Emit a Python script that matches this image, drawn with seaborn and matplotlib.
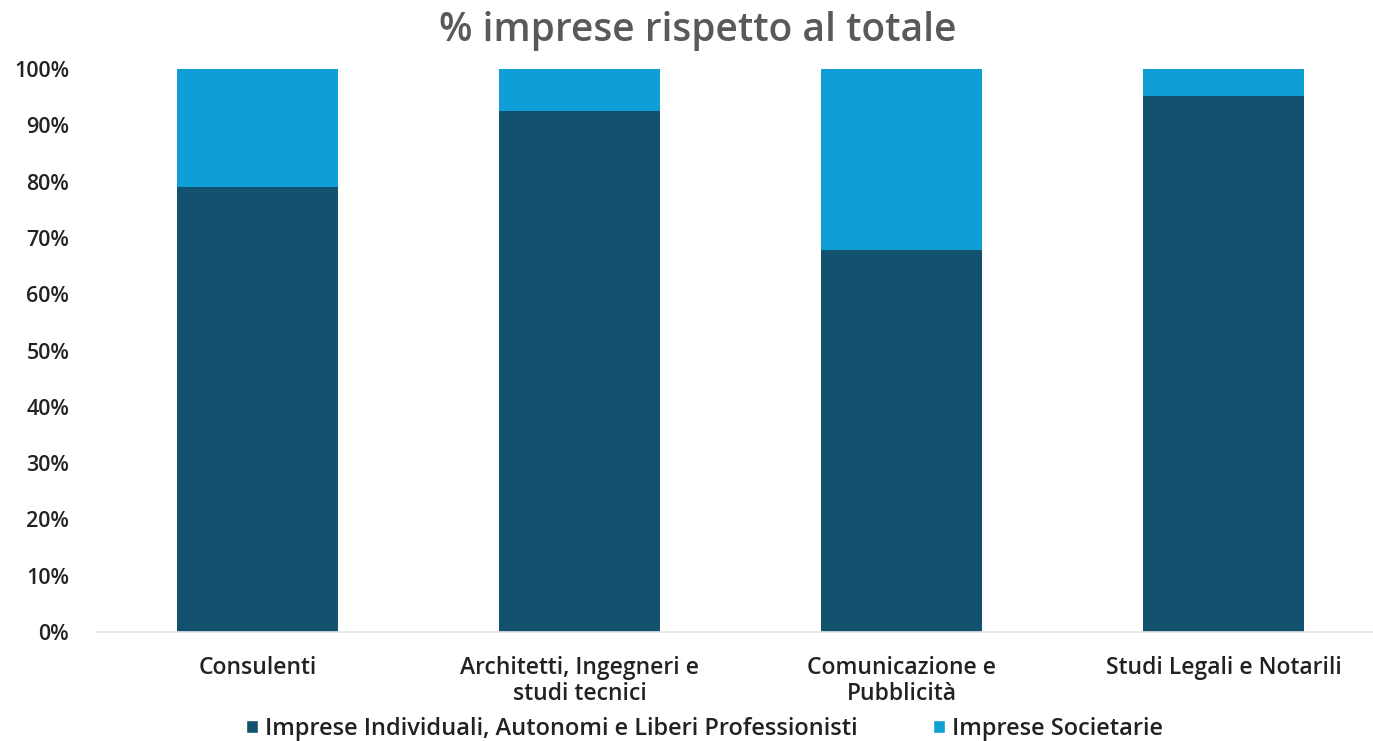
import numpy as np
import pandas as pd
import seaborn as sns
import matplotlib
matplotlib.use('Agg')
import matplotlib.pyplot as plt
from matplotlib.patches import Patch
from matplotlib.ticker import PercentFormatter

categories = ["Consulenti", "Architetti, Ingegneri e\nstudi tecnici",
              "Comunicazione e\nPubblicità", "Studi Legali e Notarili"]
individuali = [79.0, 92.5, 67.8, 95.2]
societarie = [21.0, 7.5, 32.2, 4.8]
series_names = ["Imprese Individuali, Autonomi e Liberi Professionisti", "Imprese Societarie"]

DARK = "#12526E"
LIGHT = "#109ED6"

sns.set_theme(style="white", rc={"axes.spines.right": False, "axes.spines.top": False})
plt.rcParams['font.family'] = ['Open Sans', 'DejaVu Sans']

df = pd.DataFrame({
    "categoria": categories,
    "individuali": individuali,
    "totale": np.array(individuali) + np.array(societarie),
})

fig = plt.figure(figsize=(13.73, 7.41), dpi=100)
ax = fig.add_axes([97 / 1373, 1 - 632 / 741, 1 - 97 / 1373, (632 - 69) / 741])

sns.barplot(data=df, x="categoria", y="totale", color=LIGHT, saturation=1,
            width=0.5, errorbar=None, linewidth=0, ax=ax)
sns.barplot(data=df, x="categoria", y="individuali", color=DARK, saturation=1,
            width=0.5, errorbar=None, linewidth=0, ax=ax)

ax.set_ylim(0, 100)
ax.set_xlim(-0.5, 3.463)
ax.set_yticks(np.arange(0, 101, 10))
ax.yaxis.set_major_formatter(PercentFormatter(decimals=0))
ax.set_xlabel("")
ax.set_ylabel("")
ax.spines['left'].set_visible(False)
ax.spines['bottom'].set_color("#e6e6e6")
ax.spines['bottom'].set_linewidth(1.2)
ax.tick_params(axis='y', labelsize=15.5, colors="#222222", pad=20, length=0)
ax.tick_params(axis='x', labelsize=16.5, colors="#222222", pad=17, length=0)
for lbl in ax.get_xticklabels() + ax.get_yticklabels():
    lbl.set_fontweight('semibold')
for lbl in ax.get_xticklabels():
    lbl.set_linespacing(1.15)

fig.suptitle("% imprese rispetto al totale", x=0.508, y=0.985, fontsize=28,
             color="#595959", fontweight='semibold')

handles = [Patch(facecolor=DARK, label=series_names[0]),
           Patch(facecolor=LIGHT, label=series_names[1])]
leg = fig.legend(handles=handles, loc='center', bbox_to_anchor=(0.513, 0.016),
                 ncol=2, frameon=False, fontsize=17, handlelength=0.5,
                 handleheight=0.5, handletextpad=0.3, columnspacing=3.2)
for t in leg.get_texts():
    t.set_color("#222222")
    t.set_fontweight('semibold')

fig.savefig("out.png", dpi=100)
